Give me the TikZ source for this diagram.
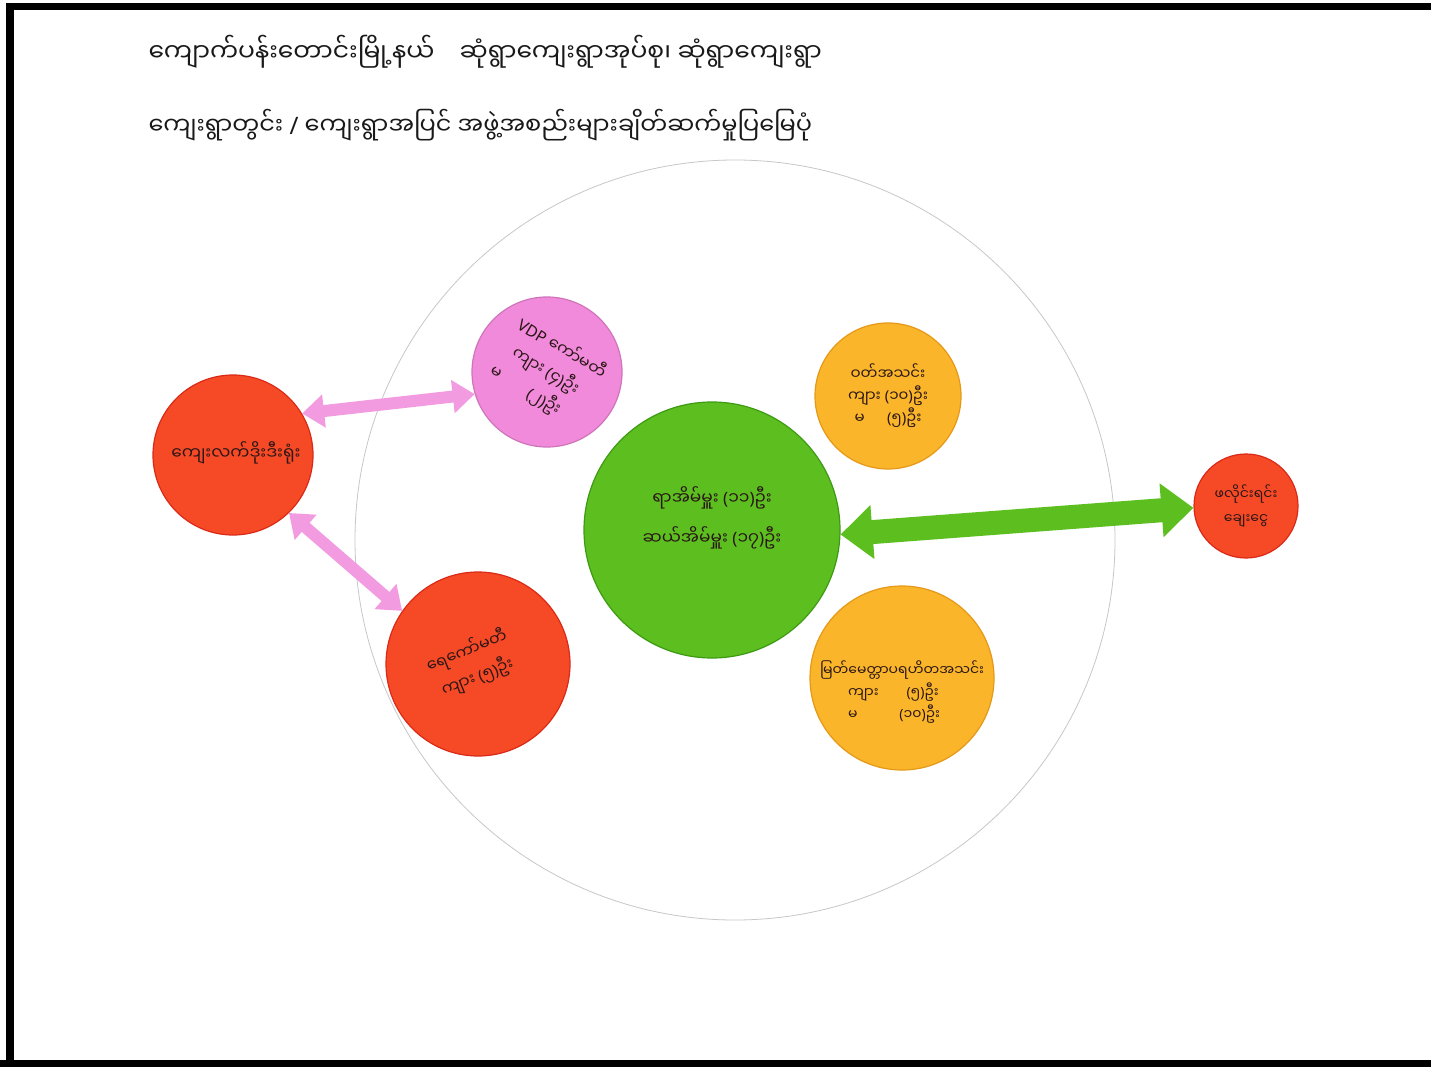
\documentclass[tikz,border=0pt]{standalone}
\usepackage{fontspec}
\newfontfamily\mya[Script=Myanmar]{Noto Sans Myanmar UI}
\newfontfamily\latf{Noto Sans}
\newcommand\mypar[1]{{\latf(}#1{\latf)}}
\usetikzlibrary{arrows.meta}
\definecolor{redc}{HTML}{F64A26}
\definecolor{redd}{HTML}{D92A18}
\definecolor{pinkc}{HTML}{F28ADB}
\definecolor{pinka}{HTML}{F39BE1}
\definecolor{greenc}{HTML}{5CBF1F}
\definecolor{greend}{HTML}{3E9A14}
\definecolor{orangec}{HTML}{FAB52A}
\definecolor{oranged}{HTML}{E49A18}
\definecolor{inkc}{HTML}{2A1616}
\tikzset{
  blob/.style={circle, inner sep=0pt, line width=1.2pt},
  redblob/.style={blob, fill=redc, draw=redd},
  pinkblob/.style={blob, fill=pinkc, draw=pinkc!85!black},
  greenblob/.style={blob, fill=greenc, draw=greend},
  orangeblob/.style={blob, fill=orangec, draw=oranged},
  lbl/.style={text=inkc, align=center, font=\mya\fontsize{15}{22}\selectfont},
  titletext/.style={text=black!90, anchor=west, font=\mya\fontsize{25}{30}\selectfont},
  pinkarrow/.style={draw=pinka, line width=12pt, {Triangle[length=22pt,width=32pt]}-{Triangle[length=22pt,width=32pt]}},
  greenarrow/.style={draw=greenc, line width=24pt, {Triangle[length=32pt,width=52pt]}-{Triangle[length=32pt,width=52pt]}}
}
\begin{document}
\begin{tikzpicture}[x=1pt,y=-1pt]
\useasboundingbox (0,0) rectangle (1431,1067);
\fill[white] (0,0) rectangle (1431,1067);
% frame
\fill[black] (6,3) rectangle (14,1067);
\fill[black] (6,3) rectangle (1431,10);
\fill[black] (0,1060) rectangle (1431,1067);
% big faint circle
\draw[black!22, line width=0.8pt] (735,540) circle[radius=380];
% title
\node[titletext] (t1) at (145,52) {ကျောက်ပန်းတောင်းမြို့နယ်\quad ဆုံရွာကျေးရွာအုပ်စု၊ ဆုံရွာကျေးရွာ};
\node[titletext, font=\mya\fontsize{24}{30}\selectfont] (t2) at (145,125) {ကျေးရွာတွင်း {\latf/} ကျေးရွာအပြင် အဖွဲ့အစည်းများချိတ်ဆက်မှုပြမြေပုံ};
% circles
\node[redblob, minimum size=160pt] (lred) at (233,455) {};
\node[pinkblob, minimum size=150pt] (pink) at (547,372) {};
\node[greenblob, minimum size=256pt] (green) at (712,530) {};
\node[orangeblob, minimum size=146pt] (oup) at (888,396) {};
\node[orangeblob, minimum size=184pt] (olow) at (902,678) {};
\node[redblob, minimum size=184pt] (rlow) at (478,664) {};
\node[redblob, minimum size=104pt] (rright) at (1246,506) {};
% labels
\node[lbl, font=\mya\fontsize{17}{22}\selectfont] (lredt) at (236,453) {ကျေးလက်ဒိုးဒီးရုံး};
\node[lbl, rotate=-31, align=left, font=\mya\fontsize{16}{27}\selectfont] (pinkt) at (548,372) {{\latf VDP} ကော်မတီ\\\hspace*{0.6em}ကျား \mypar{၄}ဦး\\မ\hspace*{2em}\mypar{၂}ဦး};
\node[lbl, font=\mya\fontsize{17}{40}\selectfont] (greent) at (712,518) {ရာအိမ်မှူး \mypar{၁၁}ဦး\\ဆယ်အိမ်မှူး \mypar{၁၇}ဦး};
\node[lbl, font=\mya\fontsize{15}{22}\selectfont] (oupt) at (888,396) {ဝတ်အသင်း\\ကျား \mypar{၁၀}ဦး\\မ\hspace*{1.5em}\mypar{၅}ဦး};
\node[lbl, font=\mya\fontsize{14}{22}\selectfont, align=left] (olowt) at (902,692) {မြတ်မေတ္တာပရဟိတအသင်း\\\hspace*{2em}ကျား\hspace*{2em}\mypar{၅}ဦး\\\hspace*{2em}မ\hspace*{3em}\mypar{၁၀}ဦး};
\node[lbl, rotate=22, font=\mya\fontsize{16}{28}\selectfont] (rlowt) at (472,664) {ရေကော်မတီ\\ကျား \mypar{၅}ဦး};
\node[lbl, font=\mya\fontsize{14}{24}\selectfont] (rrightt) at (1246,506) {ဖလိုင်းရင်း\\ချေးငွေ};
% connectors
\draw[pinkarrow] (lred.31) -- (pink.197);
\draw[pinkarrow] (lred.-46) -- (rlow.145);
\draw[greenarrow] (green.-2) -- (rright.182);
\end{tikzpicture}
\end{document}
